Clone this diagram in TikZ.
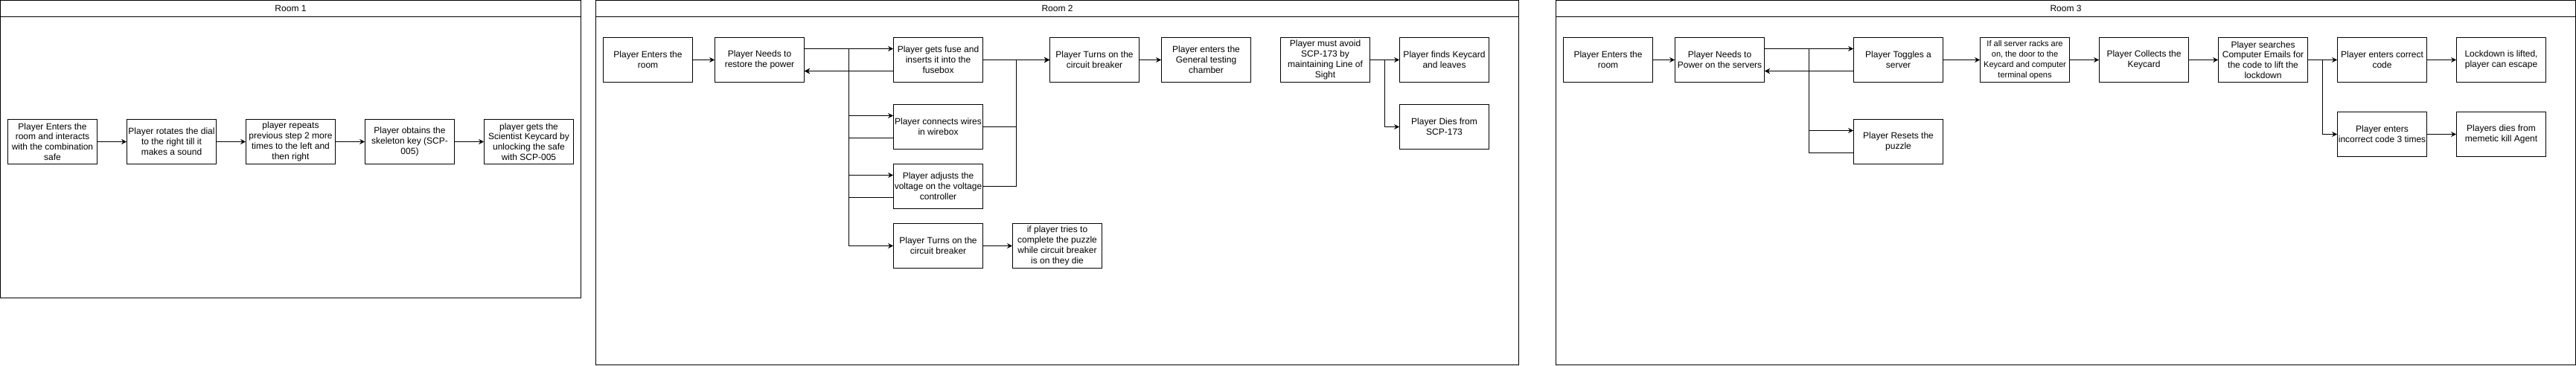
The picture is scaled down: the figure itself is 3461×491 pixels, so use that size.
\documentclass[tikz,border=0pt]{standalone}
\usepackage{fontspec}
\setmainfont{Liberation Sans}
\usetikzlibrary{arrows.meta}
\begin{document}
\begin{tikzpicture}[x=1pt,y=-1pt,
  box/.style={draw, line width=1pt, minimum width=120pt, minimum height=60pt, inner sep=1pt, align=center, font=\fontsize{12}{13.8}\selectfont},
  smallbox/.style={box, font=\fontsize{11}{13.8}\selectfont},
  arr/.style={line width=1pt, -{Stealth[length=7pt,width=7pt,inset=2.5pt]}},
  ln/.style={line width=1pt},
  roombox/.style={draw, line width=1pt, inner sep=0pt},
  roomtitle/.style={font=\fontsize{12}{14.4}\selectfont, inner sep=0pt}]
\useasboundingbox (0,0) rectangle (3461,491);

% rooms
\node[roombox, minimum width=780pt, minimum height=400pt] (room1) at (390.5,200.5) {};
\node[roombox, minimum width=1240pt, minimum height=490pt] (room2) at (1420.5,245.5) {};
\node[roombox, minimum width=1370pt, minimum height=490pt] (room3) at (2775.5,245.5) {};
\foreach \r in {room1,room2,room3}{
  \draw[ln] ([yshift=-22.5pt]\r.north west) -- ([yshift=-22.5pt]\r.north east);
}
\node[roomtitle] (t1) at ([yshift=-11.5pt]room1.north) {Room 1};
\node[roomtitle] (t2) at ([yshift=-11.5pt]room2.north) {Room 2};
\node[roomtitle] (t3) at ([yshift=-11.5pt]room3.north) {Room 3};

% Room 1
\node[box] (a1) at (70.5,190.5) {Player Enters the\\room and interacts\\with the combination\\safe};
\node[box] (a2) at (230.5,190.5) {Player rotates the dial\\to the right till it\\makes a sound};
\node[box] (a3) at (390.5,190.5) {player repeats\\previous step 2 more\\times to the left and\\then right};
\node[box] (a4) at (550.5,190.5) {Player obtains the\\skeleton key (SCP-\\005)};
\node[box] (a5) at (710.5,190.5) {player gets the\\Scientist Keycard by\\unlocking the safe\\with SCP-005};
\draw[arr] (a1) -- (a2);
\draw[arr] (a2) -- (a3);
\draw[arr] (a3) -- (a4);
\draw[arr] (a4) -- (a5);

% Room 2
\node[box] (b1) at (870.5,80.5) {Player Enters the\\room};
\node[box] (b2) at (1020.5,80.5) {Player Needs to\\restore the power};
\node[box] (b3) at (1260.5,80.5) {Player gets fuse and\\inserts it into the\\fusebox};
\node[box] (b4) at (1260.5,170.5) {Player connects wires\\in wirebox};
\node[box] (b5) at (1260.5,250.5) {Player adjusts the\\voltage on the voltage\\controller};
\node[box] (b6) at (1260.5,330.5) {Player Turns on the\\circuit breaker};
\node[box] (b7) at (1420.5,330.5) {if player tries to\\complete the puzzle\\while circuit breaker\\is on they die};
\node[box] (b8) at (1470.5,80.5) {Player Turns on the\\circuit breaker};
\node[box] (b9) at (1620.5,80.5) {Player enters the\\General testing\\chamber};
\node[box] (b10) at (1780.5,80.5) {Player must avoid\\SCP-173 by\\maintaining Line of\\Sight};
\node[box] (b11) at (1940.5,80.5) {Player finds Keycard\\and leaves};
\node[box] (b12) at (1940.5,170.5) {Player Dies from\\SCP-173};

\draw[arr] (b1) -- (b2);
\draw[arr] ([yshift=15pt]b2.east) -- ([yshift=15pt]b3.west);
\draw[arr] ([yshift=-15pt]b3.west) -- ([yshift=-15pt]b2.east);
\draw[arr] ([yshift=15pt]b2.east) -- (1140.5,65.5) |- ([yshift=15pt]b4.west);
\draw[arr] ([yshift=-15pt]b4.west) -- (1140.5,185.5) |- ([yshift=-15pt]b2.east);
\draw[arr] ([yshift=15pt]b2.east) -- (1140.5,65.5) |- ([yshift=15pt]b5.west);
\draw[arr] ([yshift=-15pt]b5.west) -- (1140.5,265.5) |- ([yshift=-15pt]b2.east);
\draw[arr] ([yshift=15pt]b2.east) -- (1140.5,65.5) |- (b6.west);
\draw[arr] (b6) -- (b7);
\draw[arr] (b3) -- (b8);
\draw[arr] (b4.east) -- (1365.5,170.5) |- (b8.west);
\draw[arr] (b5.east) -- (1365.5,250.5) |- (b8.west);
\draw[arr] (b8) -- (b9);
\draw[arr] (b10) -- (b11);
\draw[arr] (b10.east) -- (1860.5,80.5) |- (b12.west);

% Room 3
\node[box] (c1) at (2160.5,80.5) {Player Enters the\\room};
\node[box] (c2) at (2310.5,80.5) {Player Needs to\\Power on the servers};
\node[box] (c3) at (2550.5,80.5) {Player Toggles a\\server};
\node[box] (c4) at (2550.5,190.5) {Player Resets the\\puzzle};
\node[smallbox] (c5) at (2720.5,80.5) {If all server racks are\\on, the door to the\\Keycard and computer\\terminal opens};
\node[box] (c6) at (2880.5,80.5) {Player Collects the\\Keycard};
\node[box] (c7) at (3040.5,80.5) {Player searches\\Computer Emails for\\the code to lift the\\lockdown};
\node[box] (c8) at (3200.5,80.5) {Player enters correct\\code};
\node[box] (c9) at (3360.5,80.5) {Lockdown is lifted,\\player can escape};
\node[box] (c10) at (3200.5,180.5) {Player enters\\incorrect code 3 times};
\node[box] (c11) at (3360.5,180.5) {Players dies from\\memetic kill Agent};

\draw[arr] (c1) -- (c2);
\draw[arr] ([yshift=15pt]c2.east) -- ([yshift=15pt]c3.west);
\draw[arr] ([yshift=-15pt]c3.west) -- ([yshift=-15pt]c2.east);
\draw[arr] ([yshift=15pt]c2.east) -- (2430.5,65.5) |- ([yshift=15pt]c4.west);
\draw[arr] ([yshift=-15pt]c4.west) -- (2430.5,205.5) |- ([yshift=-15pt]c2.east);
\draw[arr] (c3) -- (c5);
\draw[arr] (c5) -- (c6);
\draw[arr] (c6) -- (c7);
\draw[arr] (c7) -- (c8);
\draw[arr] (c7.east) -- (3120.5,80.5) |- (c10.west);
\draw[arr] (c8) -- (c9);
\draw[arr] (c10) -- (c11);
\end{tikzpicture}
\end{document}
